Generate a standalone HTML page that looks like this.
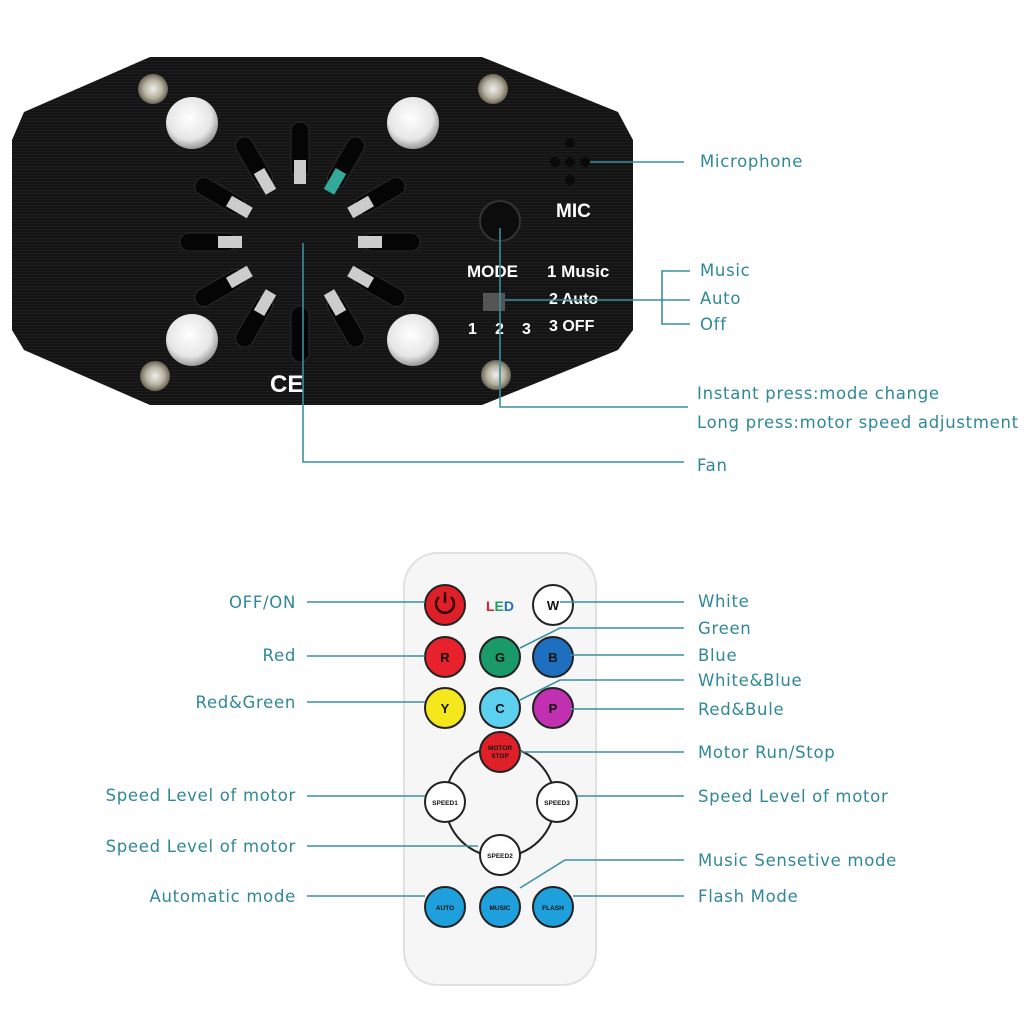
<!DOCTYPE html>
<html><head><meta charset="utf-8"><style>
html,body{margin:0;padding:0;background:#fff}
svg{display:block}
.t{font-family:"DejaVu Sans","Liberation Sans",sans-serif;font-size:16.5px;letter-spacing:0.7px;fill:#2f8898}
.l{stroke:#3a8fa0;stroke-width:1.6;fill:none}
.w{font-family:"Liberation Sans",sans-serif;font-weight:bold;fill:#fff}
.b{font-family:"Liberation Sans",sans-serif;font-weight:bold;text-anchor:middle}
</style></head><body>
<svg width="1024" height="1024" viewBox="0 0 1024 1024">
<defs>
<pattern id="br" width="40" height="3" patternUnits="userSpaceOnUse"><rect width="40" height="3" fill="#141414"/><rect y="1" width="40" height="1" fill="#1d1d1d"/></pattern>
<radialGradient id="sc" cx="0.45" cy="0.4" r="0.6"><stop offset="0" stop-color="#fff"/><stop offset="0.7" stop-color="#e6e6e6"/><stop offset="1" stop-color="#999"/></radialGradient>
<radialGradient id="sm" cx="0.5" cy="0.5" r="0.5"><stop offset="0" stop-color="#eee"/><stop offset="0.6" stop-color="#b8b3a0"/><stop offset="1" stop-color="#6a6455"/></radialGradient>
</defs>
<polygon points="150,57 482,57 618,112 633,140 633,330 618,350 482,405 150,405 24,350 12,330 12,140 24,112" fill="url(#br)"/>
<g transform="translate(300,242)">
<g fill="#050505" stroke="#2a2a2a" stroke-width="1">
<rect x="-9" y="-120" width="18" height="56" rx="9" transform="rotate(0)"/>
<rect x="-9" y="-120" width="18" height="56" rx="9" transform="rotate(30)"/>
<rect x="-9" y="-120" width="18" height="56" rx="9" transform="rotate(60)"/>
<rect x="-9" y="-120" width="18" height="56" rx="9" transform="rotate(90)"/>
<rect x="-9" y="-120" width="18" height="56" rx="9" transform="rotate(120)"/>
<rect x="-9" y="-120" width="18" height="56" rx="9" transform="rotate(150)"/>
<rect x="-9" y="-120" width="18" height="56" rx="9" transform="rotate(180)"/>
<rect x="-9" y="-120" width="18" height="56" rx="9" transform="rotate(210)"/>
<rect x="-9" y="-120" width="18" height="56" rx="9" transform="rotate(240)"/>
<rect x="-9" y="-120" width="18" height="56" rx="9" transform="rotate(270)"/>
<rect x="-9" y="-120" width="18" height="56" rx="9" transform="rotate(300)"/>
<rect x="-9" y="-120" width="18" height="56" rx="9" transform="rotate(330)"/>
</g>
<g fill="#ccc">
<rect x="-6" y="-82" width="12" height="24" transform="rotate(0)"/>
<rect x="-6" y="-82" width="12" height="24" transform="rotate(30)" fill="#3a9"/>
<rect x="-6" y="-82" width="12" height="24" transform="rotate(60)"/>
<rect x="-6" y="-82" width="12" height="24" transform="rotate(90)"/>
<rect x="-6" y="-82" width="12" height="24" transform="rotate(120)"/>
<rect x="-6" y="-82" width="12" height="24" transform="rotate(150)"/>
<rect x="-6" y="-82" width="12" height="24" transform="rotate(210)"/>
<rect x="-6" y="-82" width="12" height="24" transform="rotate(240)"/>
<rect x="-6" y="-82" width="12" height="24" transform="rotate(270)"/>
<rect x="-6" y="-82" width="12" height="24" transform="rotate(300)"/>
<rect x="-6" y="-82" width="12" height="24" transform="rotate(330)"/>
</g>
</g>
<g fill="url(#sc)"><circle cx="192" cy="123" r="26"/><circle cx="413" cy="123" r="26"/><circle cx="192" cy="340" r="26"/><circle cx="413" cy="340" r="26"/></g>
<g fill="url(#sm)"><circle cx="153" cy="89" r="15"/><circle cx="493" cy="89" r="15"/><circle cx="155" cy="376" r="15"/><circle cx="496" cy="375" r="15"/></g>
<g fill="#0a0a0a"><circle cx="570" cy="143" r="5"/><circle cx="570" cy="162" r="5"/><circle cx="570" cy="180" r="5"/><circle cx="555" cy="162" r="5"/><circle cx="585" cy="162" r="5"/></g>
<circle cx="500" cy="221" r="20" fill="#0c0c0c" stroke="#333" stroke-width="2"/>
<text class="w" x="556" y="217" font-size="19">MIC</text>
<text class="w" x="467" y="277" font-size="17">MODE</text>
<text class="w" x="547" y="277" font-size="17">1 Music</text>
<text class="w" x="549" y="304" font-size="16">2 Auto</text>
<text class="w" x="549" y="331" font-size="16">3 OFF</text>
<text class="w" x="468" y="334" font-size="16">1</text>
<text class="w" x="495" y="334" font-size="16">2</text>
<text class="w" x="522" y="334" font-size="16">3</text>
<rect x="483" y="293" width="22" height="18" fill="#555"/>
<text class="w" x="270" y="392" font-size="24">CE</text>
<path class="l" d="M590 162H684"/>
<path class="l" d="M505 300H690M690 271H662V324H690"/>
<path class="l" d="M500 228V407H688"/>
<path class="l" d="M303 243V462H684"/>
<text class="t" x="700" y="167">Microphone</text>
<text class="t" x="700" y="276">Music</text>
<text class="t" x="700" y="304">Auto</text>
<text class="t" x="700" y="330">Off</text>
<text class="t" x="697" y="399">Instant press:mode change</text>
<text class="t" x="697" y="428">Long press:motor speed adjustment</text>
<text class="t" x="697" y="471">Fan</text>
<rect x="404" y="553" width="192" height="432" rx="34" fill="#f6f6f6" stroke="#e0e0e0" stroke-width="2"/>
<circle cx="500" cy="802" r="55" fill="none" stroke="#222" stroke-width="2"/>
<g stroke="#222" stroke-width="2">
<circle cx="445" cy="605" r="20" fill="#e02028"/>
<circle cx="553" cy="605" r="20" fill="#fff"/>
<circle cx="445" cy="657" r="20" fill="#e8222c"/>
<circle cx="500" cy="657" r="20" fill="#1a9a68"/>
<circle cx="553" cy="657" r="20" fill="#1e6fc0"/>
<circle cx="445" cy="708" r="20" fill="#f4e81c"/>
<circle cx="500" cy="708" r="20" fill="#5cd0ee"/>
<circle cx="553" cy="708" r="20" fill="#c030b0"/>
<circle cx="500" cy="752" r="20" fill="#e02028"/>
<circle cx="445" cy="802" r="20" fill="#fff"/>
<circle cx="557" cy="802" r="20" fill="#fff"/>
<circle cx="500" cy="855" r="20" fill="#fff"/>
<circle cx="445" cy="907" r="20" fill="#1ea0dc"/>
<circle cx="500" cy="907" r="20" fill="#1ea0dc"/>
<circle cx="553" cy="907" r="20" fill="#1ea0dc"/>
</g>
<path d="M439 597A9 9 0 1 0 451 597M445 592V603" stroke="#300" stroke-width="2.5" fill="none"/>
<text x="500" y="611" class="b" font-size="14"><tspan fill="#e02028">L</tspan><tspan fill="#20a060">E</tspan><tspan fill="#1e6fc0">D</tspan></text>
<g class="b" fill="#111" font-size="13">
<text x="553" y="610">W</text><text x="445" y="662">R</text><text x="500" y="662">G</text><text x="553" y="662">B</text>
<text x="445" y="713">Y</text><text x="500" y="713">C</text><text x="553" y="713">P</text>
</g>
<g class="b" fill="#111" font-size="6.5">
<text x="500" y="750">MOTOR</text><text x="500" y="758">STOP</text>
<text x="445" y="805">SPEED1</text><text x="557" y="805">SPEED3</text><text x="500" y="858">SPEED2</text>
<text x="445" y="910">AUTO</text><text x="500" y="910">MUSIC</text><text x="553" y="910">FLASH</text>
</g>
<g class="l">
<path d="M307 602H425"/><path d="M307 656H425"/><path d="M307 702H425"/>
<path d="M307 796H425"/><path d="M307 846H478"/><path d="M307 896H425"/>
<path d="M560 602H684"/><path d="M520 648L560 628H684"/><path d="M570 655H684"/>
<path d="M520 700L560 680H684"/><path d="M570 709H684"/><path d="M520 752H684"/>
<path d="M577 796H684"/><path d="M520 888L565 860H684"/><path d="M573 896H684"/>
</g>
<g class="t" text-anchor="end">
<text x="296" y="608">OFF/ON</text><text x="296" y="661">Red</text><text x="296" y="708">Red&amp;Green</text>
<text x="296" y="801">Speed Level of motor</text><text x="296" y="852">Speed Level of motor</text>
<text x="296" y="902">Automatic mode</text>
</g>
<g class="t">
<text x="698" y="607">White</text><text x="698" y="634">Green</text><text x="698" y="661">Blue</text>
<text x="698" y="686">White&amp;Blue</text><text x="698" y="715">Red&amp;Bule</text>
<text x="698" y="758">Motor Run/Stop</text><text x="698" y="802">Speed Level of motor</text>
<text x="698" y="866">Music Sensetive mode</text><text x="698" y="902">Flash Mode</text>
</g>
</svg>
</body></html>
